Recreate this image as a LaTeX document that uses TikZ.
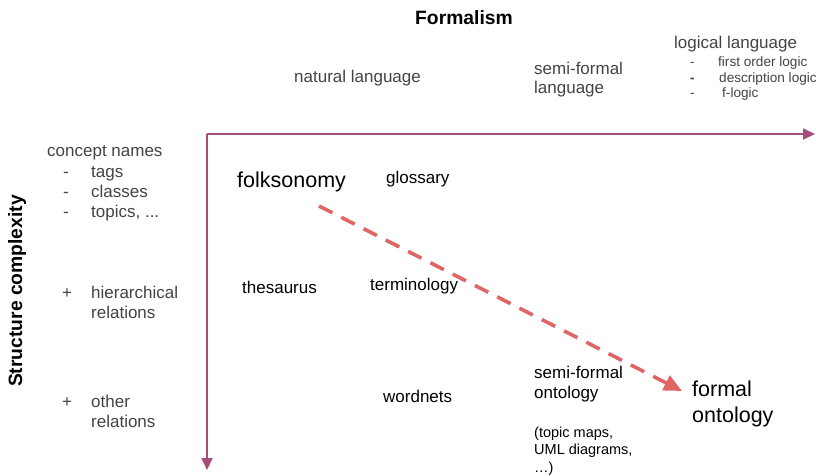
\documentclass[tikz,border=0pt]{standalone}
\usepackage{fontspec}
\setmainfont{Liberation Sans}
\usetikzlibrary{
    arrows.meta,
    positioning
}
\definecolor{axiscolor}{HTML}{A64D79}
\definecolor{trendcolor}{HTML}{E06666}
\definecolor{labelgray}{HTML}{434343}
\tikzset{
    axis/.style={-{Triangle[length=12pt,width=11pt]}, line width=2pt, color=axiscolor},
    trend/.style={-{Triangle[length=18pt,width=16pt]}, line width=3.6pt, color=trendcolor, dash pattern=on 15pt off 10pt},
    label-text/.style={anchor=base west, inner sep=0pt, align=left, text=labelgray, font=\fontsize{17}{20}\selectfont},
    cell-text/.style={anchor=base west, inner sep=0pt, align=left, text=black, font=\fontsize{17}{20}\selectfont},
    big-text/.style={cell-text, font=\fontsize{21.5}{26}\selectfont},
    title-text/.style={inner sep=0pt, text=black, font=\bfseries\fontsize{19.3}{23}\selectfont}
}

\begin{document}
\begin{tikzpicture}[x=1pt, y=-1pt]

    \useasboundingbox (0, 0) rectangle (816, 476);

    % axes
    \coordinate (origin) at (207, 134);
    \coordinate (formalism-end) at (815, 134);
    \coordinate (structure-end) at (207, 470);
    \draw[axis] (origin) -- (formalism-end);
    \draw[axis] (origin) -- (structure-end);

    % axis titles
    \node[title-text, anchor=base west] at (415, 25) (formalism) {Formalism};
    \node[title-text, anchor=base, rotate=90] at (22, 291) (structure) {Structure complexity};

    % formalism levels (multi-line nodes sit on their last baseline)
    \node[label-text] at (294, 83) (natural) {natural language};
    \node[label-text, font=\fontsize{17}{18.5}\selectfont] at (534, 93.5) (semi-formal) {semi-formal\\language};
    \node[label-text] at (674, 49) (logical) {logical language};
    \node[label-text, font=\fontsize{13.6}{15.5}\selectfont] at (690, 98) (logics)
        {\makebox[28pt][l]{-}first order logic\\\makebox[29pt][l]{\textbf{-}}description logic\\\makebox[32pt][l]{-}f-logic};

    % structure levels
    \node[label-text] at (47, 157) (concepts) {concept names};
    \node[label-text] at (63, 217) (concept-list)
        {\makebox[28pt][l]{-}tags\\\makebox[28pt][l]{-}classes\\\makebox[28pt][l]{-}topics, ...};
    \node[label-text] at (62, 318) (hierarchical) {\makebox[29pt][l]{+}hierarchical\\\hspace*{29pt}relations};
    \node[label-text] at (62, 427) (other) {\makebox[29pt][l]{+}other\\\hspace*{29pt}relations};

    % vocabularies
    \node[big-text] at (237, 187) (folksonomy) {folksonomy};
    \node[cell-text] at (386, 183) (glossary) {glossary};
    \node[cell-text] at (242, 293) (thesaurus) {thesaurus};
    \node[cell-text] at (370, 290) (terminology) {terminology};
    \node[cell-text] at (383, 402) (wordnets) {wordnets};
    \node[cell-text] at (534, 398) (semi-ontology) {semi-formal\\ontology};
    \node[cell-text, font=\fontsize{14.5}{17.5}\selectfont] at (534, 472) (examples) {(topic maps,\\UML diagrams,\\…)};
    \node[big-text] at (692, 422) (formal-ontology) {formal\\ontology};

    % trend
    \coordinate (trend-start) at (319, 206);
    \coordinate (trend-end) at (682, 391);
    \draw[trend] (trend-start) -- (trend-end);

\end{tikzpicture}
\end{document}
